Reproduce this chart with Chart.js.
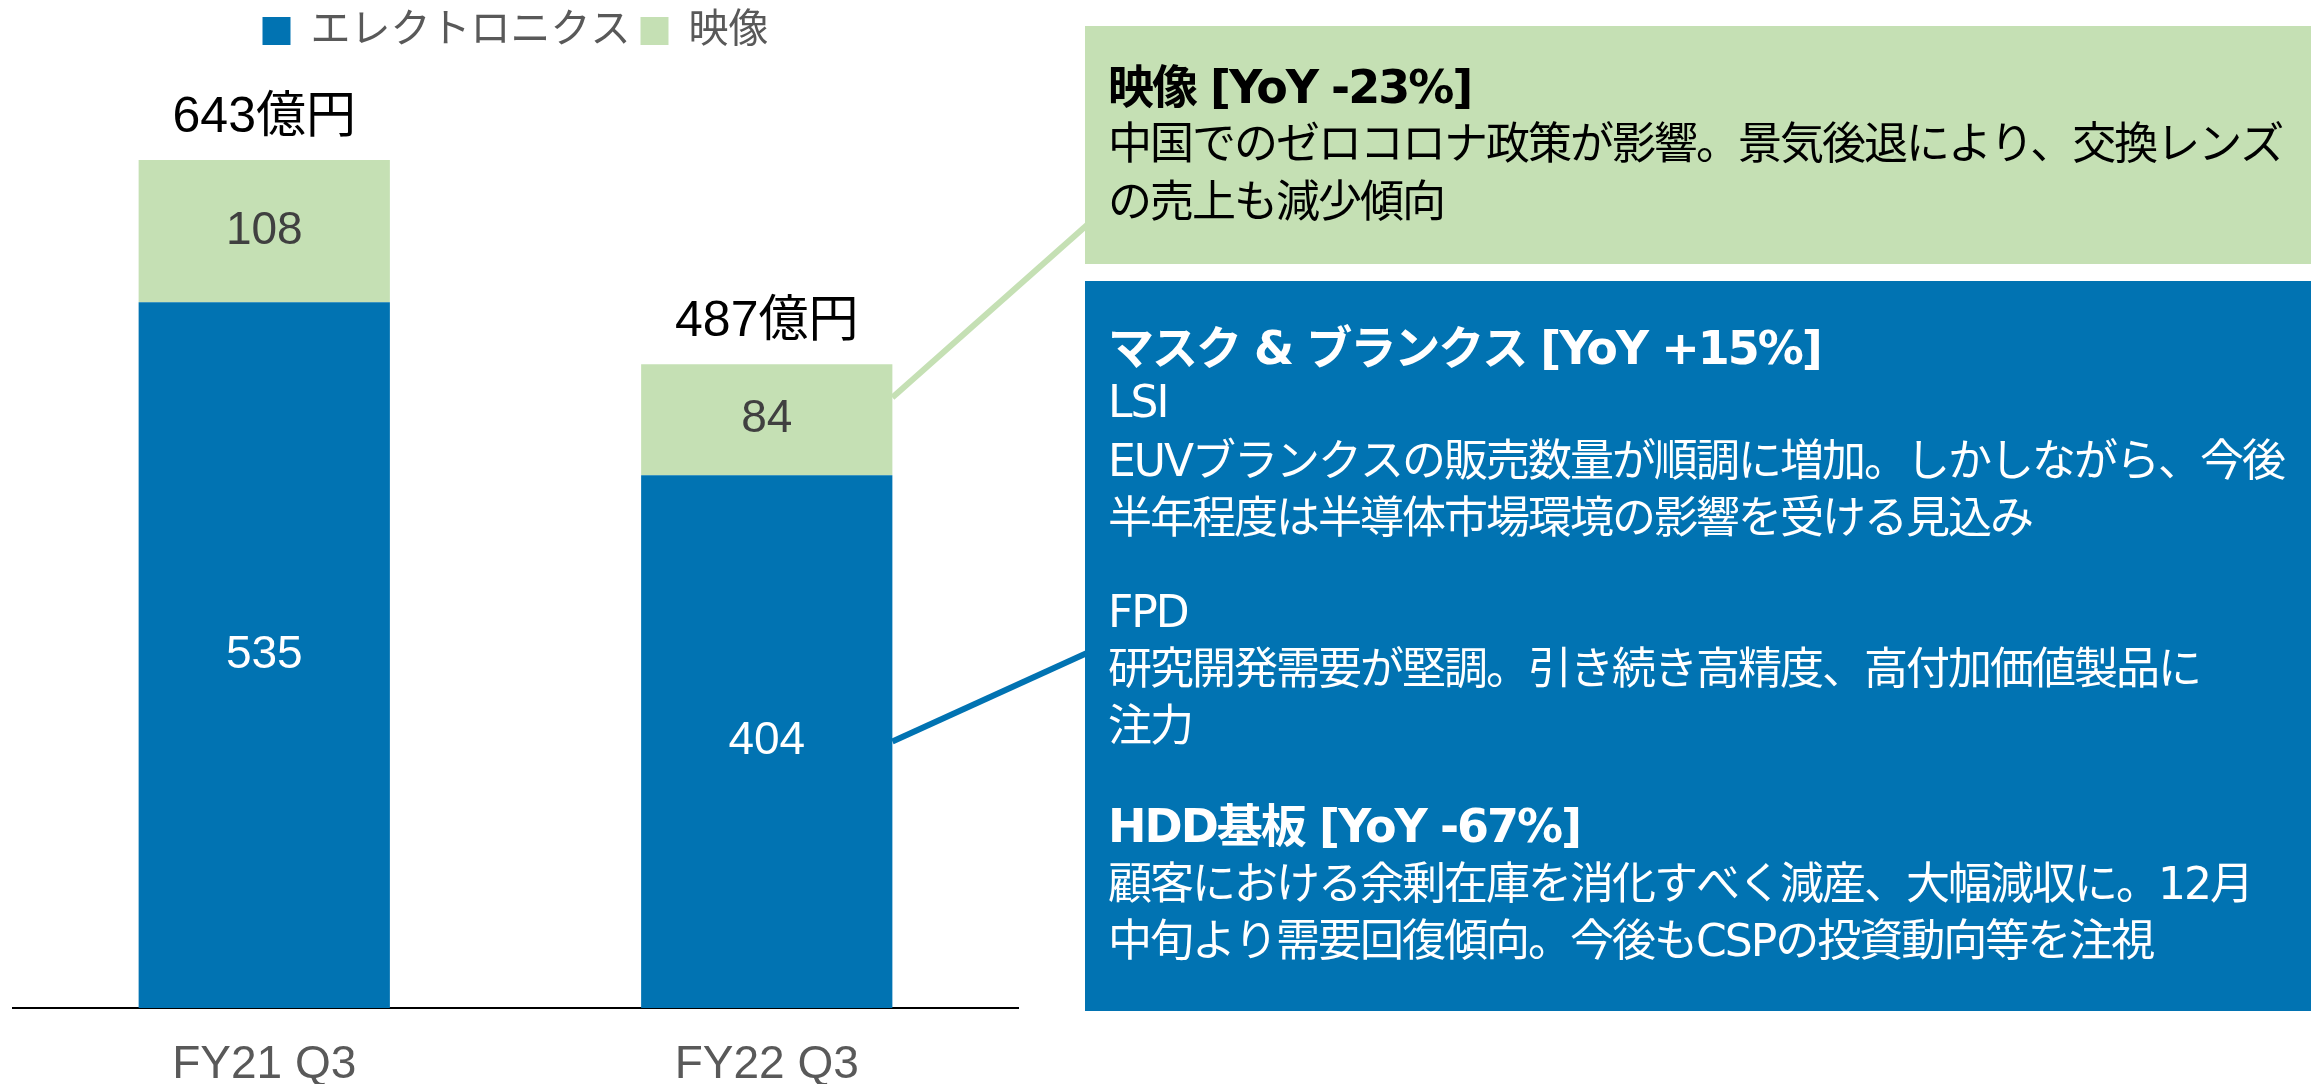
<!DOCTYPE html>
<html lang="ja">
<head>
<meta charset="utf-8">
<title>Sales by segment</title>
<script src="https://cdn.jsdelivr.net/npm/chart.js@4.4.0/dist/chart.umd.min.js"></script>
<style>
  html, body { margin: 0; padding: 0; background: #ffffff; }
  #wrap { width: 2320px; height: 1084px; position: relative; }
</style>
</head>
<body>
<div id="wrap"><canvas id="salesChart" width="2320" height="1084"></canvas></div>
<script>
// Chart data
const categories = ["FY21 Q3", "FY22 Q3"];
const seriesNames = ["エレクトロニクス", "映像"];
const electronics = [535, 404];
const video = [108, 84];
const totalLabels = ["643億円", "487億円"];

// Comment panel text
const videoTitle = "映像 [YoY -23%]";
const videoLines = ["中国でのゼロコロナ政策が影響。景気後退により、交換レンズ", "の売上も減少傾向"];
const maskTitle = "マスク & ブランクス [YoY +15%]";
const maskLines = [
  "LSI",
  "EUVブランクスの販売数量が順調に増加。しかしながら、今後",
  "半年程度は半導体市場環境の影響を受ける見込み",
  "FPD",
  "研究開発需要が堅調。引き続き高精度、高付加価値製品に",
  "注力"
];
const hddTitle = "HDD基板 [YoY -67%]";
const hddLines = ["顧客における余剰在庫を消化すべく減産、大幅減収に。12月", "中旬より需要回復傾向。今後もCSPの投資動向等を注視"];

const BLUE = "#0173B2";
const GREEN = "#C5E0B4";
const SANS = "'Liberation Sans', 'Noto Sans CJK JP', sans-serif";
const PANEL = "'DejaVu Sans', 'Noto Sans CJK JP', sans-serif";

// Draws the values, totals, connector lines and the comment boxes
const annotatePlugin = {
  id: "annotate",
  afterDatasetsDraw(chart) {
    const ctx = chart.ctx;
    const metaE = chart.getDatasetMeta(0);
    const metaV = chart.getDatasetMeta(1);
    ctx.save();
    ctx.textAlign = "center";
    ctx.textBaseline = "middle";
    ctx.font = "46px " + SANS;
    metaE.data.forEach((bar, i) => {
      ctx.fillStyle = "#ffffff";
      ctx.fillText(String(electronics[i]), bar.x, (bar.y + bar.base) / 2);
    });
    metaV.data.forEach((bar, i) => {
      ctx.fillStyle = "#404040";
      ctx.fillText(String(video[i]), bar.x, (bar.y + bar.base) / 2);
      ctx.fillStyle = "#000000";
      ctx.font = "50px " + SANS;
      ctx.fillText(totalLabels[i], bar.x, bar.y - 42);
      ctx.font = "46px " + SANS;
    });
    ctx.restore();
  },
  afterDraw(chart) {
    const ctx = chart.ctx;
    const vBar = chart.getDatasetMeta(1).data[1];
    const eBar = chart.getDatasetMeta(0).data[1];
    const barRight = vBar.x + vBar.width / 2;
    const boxLeft = 1085;
    const boxRight = 2311;
    const textX = 1108;

    ctx.save();
    // boxes
    ctx.fillStyle = GREEN;
    ctx.fillRect(boxLeft, 26, boxRight - boxLeft, 238);
    ctx.fillStyle = BLUE;
    ctx.fillRect(boxLeft, 281, boxRight - boxLeft, 730);

    // connector lines
    ctx.lineWidth = 6;
    ctx.strokeStyle = GREEN;
    ctx.beginPath();
    ctx.moveTo(barRight, vBar.y + (vBar.base - vBar.y) * 0.3);
    ctx.lineTo(boxLeft + 2, 225);
    ctx.stroke();
    ctx.strokeStyle = BLUE;
    ctx.beginPath();
    ctx.moveTo(barRight, eBar.y + (eBar.base - eBar.y) * 0.5);
    ctx.lineTo(boxLeft + 2, 653);
    ctx.stroke();

    // text
    ctx.textAlign = "left";
    ctx.textBaseline = "middle";
    ctx.letterSpacing = "-2px";
    const title = (t, y, color) => {
      ctx.fillStyle = color;
      ctx.font = "bold 46px " + PANEL;
      ctx.fillText(t, textX, y);
    };
    const body = (t, y, color) => {
      ctx.fillStyle = color;
      ctx.font = "44px " + PANEL;
      ctx.fillText(t, textX, y);
    };
    title(videoTitle, 91, "#000000");
    body(videoLines[0], 148, "#000000");
    body(videoLines[1], 206, "#000000");

    title(maskTitle, 352, "#ffffff");
    const maskY = [406, 465, 522, 616, 673, 730];
    maskLines.forEach((t, i) => body(t, maskY[i], "#ffffff"));

    title(hddTitle, 830, "#ffffff");
    body(hddLines[0], 888, "#ffffff");
    body(hddLines[1], 945, "#ffffff");
    ctx.letterSpacing = "0px";
    ctx.restore();
  }
};

Chart.defaults.font.family = SANS;

const chartCtx = document.getElementById("salesChart").getContext("2d");
new Chart(chartCtx, {
  type: "bar",
  data: {
    labels: categories,
    datasets: [
      {
        label: seriesNames[0],
        data: electronics,
        backgroundColor: BLUE,
        borderWidth: 0
      },
      {
        label: seriesNames[1],
        data: video,
        backgroundColor: GREEN,
        borderWidth: 0
      }
    ]
  },
  options: {
    responsive: false,
    devicePixelRatio: 1,
    animation: false,
    layout: {
      padding: { left: 13, right: 1302, top: 1, bottom: 0 }
    },
    datasets: {
      bar: { barPercentage: 0.5, categoryPercentage: 1.0 }
    },
    plugins: {
      legend: {
        position: "top",
        align: "center",
        labels: {
          boxWidth: 28,
          boxHeight: 28,
          padding: 10,
          color: "#595959",
          font: { size: 40, family: SANS }
        }
      },
      tooltip: { enabled: false }
    },
    scales: {
      x: {
        stacked: true,
        grid: { display: false, drawTicks: false },
        border: { display: true, color: "#000000", width: 2 },
        ticks: {
          color: "#595959",
          padding: 39,
          font: { size: 46, lineHeight: 0.8, family: SANS }
        },
        afterFit(scale) {
          scale.height = 76;
        }
      },
      y: {
        stacked: true,
        display: false,
        min: 0,
        max: 718.0
      }
    }
  },
  plugins: [annotatePlugin]
});
</script>
</body>
</html>
